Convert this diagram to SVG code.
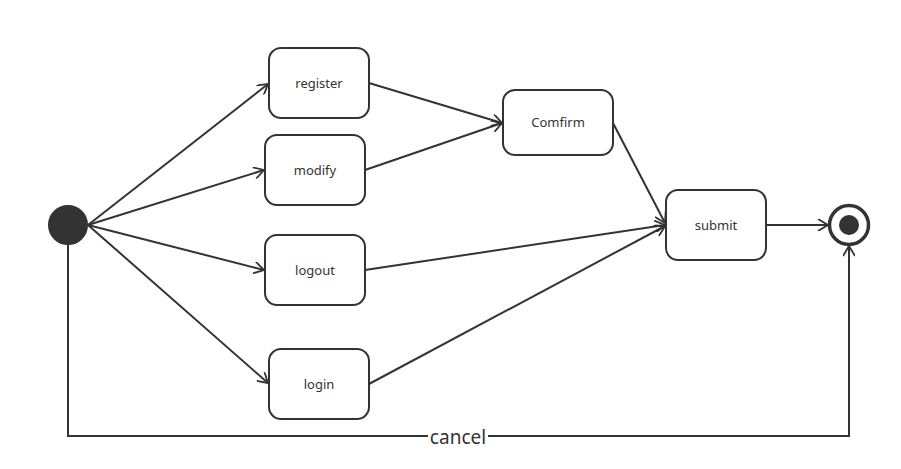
<svg xmlns="http://www.w3.org/2000/svg" width="901" height="469" viewBox="0 0 901 469">
<defs>
<marker id="arr" markerWidth="12" markerHeight="12" refX="11" refY="6" orient="auto" markerUnits="userSpaceOnUse">
<path d="M1,0 L11,6 L1,12" fill="none" stroke="#333" stroke-width="1.8"/>
</marker>
<style>
.box{fill:#fff;stroke:#333;stroke-width:2}
.lbl{font-family:"Noto Sans","Open Sans",sans-serif;font-size:13px;fill:#333;text-anchor:middle}
.edge{fill:none;stroke:#333;stroke-width:2;marker-end:url(#arr)}
</style>
</defs>
<rect width="901" height="469" fill="#fff"/>
<g id="connectors">
<line class="edge" x1="88" y1="225" x2="268" y2="84"/>
<line class="edge" x1="88" y1="225" x2="264" y2="170"/>
<line class="edge" x1="88" y1="225" x2="264" y2="270"/>
<line class="edge" x1="88" y1="225" x2="268" y2="383"/>
<line class="edge" x1="369" y1="83" x2="502" y2="123"/>
<line class="edge" x1="365" y1="170" x2="502" y2="123"/>
<line class="edge" x1="613" y1="123" x2="665" y2="223"/>
<line class="edge" x1="365" y1="270" x2="665" y2="225"/>
<line class="edge" x1="369" y1="384" x2="665" y2="226"/>
<line class="edge" x1="766" y1="225" x2="828" y2="225"/>
<path class="edge" d="M68,245 L68,436 L849,436 L849,246"/>
<rect x="428" y="426" width="60" height="20" fill="#fff"/>
<text x="458" y="444" font-family="Noto Sans,Open Sans,sans-serif" font-size="19" fill="#333" text-anchor="middle">cancel</text>
</g>
<g id="start"><circle cx="68" cy="225" r="19" fill="#333" stroke="#333" stroke-width="2"/></g>
<g id="end"><circle cx="849" cy="225" r="19.5" fill="#fff" stroke="#333" stroke-width="3.5"/><circle cx="849" cy="225" r="10" fill="#333"/></g>
<g id="register"><rect class="box" x="269" y="48" width="100" height="70" rx="12"/><text class="lbl" x="319" y="88">register</text></g>
<g id="modify"><rect class="box" x="265" y="135" width="100" height="70" rx="12"/><text class="lbl" x="315" y="175">modify</text></g>
<g id="logout"><rect class="box" x="265" y="235" width="100" height="70" rx="12"/><text class="lbl" x="315" y="275">logout</text></g>
<g id="login"><rect class="box" x="269" y="349" width="100" height="70" rx="12"/><text class="lbl" x="319" y="389">login</text></g>
<g id="comfirm"><rect class="box" x="503" y="90" width="110" height="65" rx="12"/><text class="lbl" x="558" y="127">Comfirm</text></g>
<g id="submit"><rect class="box" x="666" y="190" width="100" height="70" rx="12"/><text class="lbl" x="716" y="230">submit</text></g>
</svg>
